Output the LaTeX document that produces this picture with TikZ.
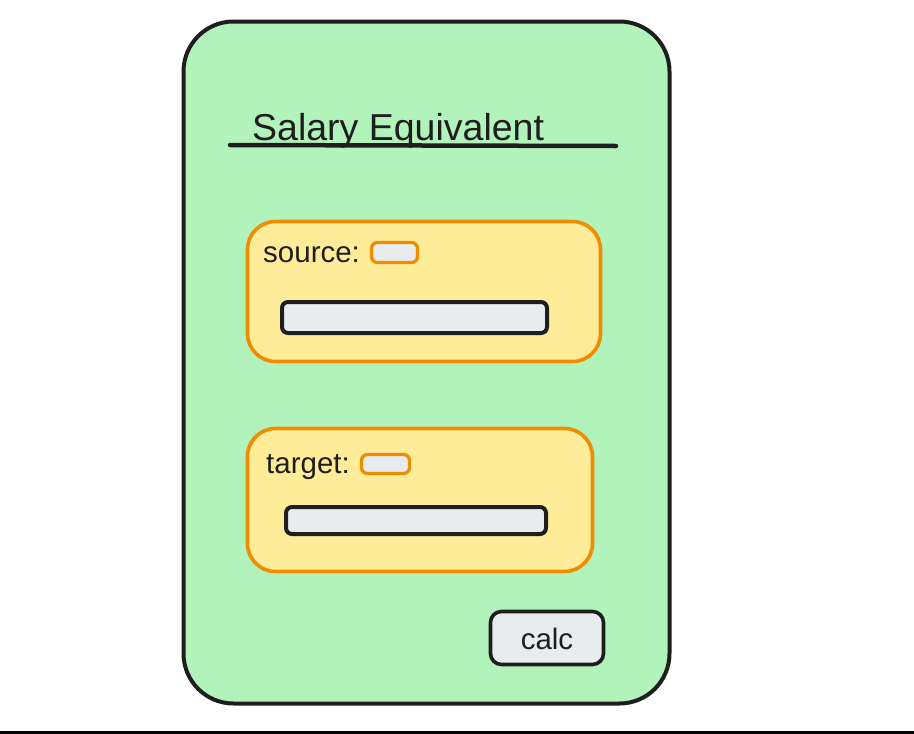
\documentclass[tikz,border=0pt]{standalone}
\usepackage{fontspec}
\setmainfont{Liberation Sans}
\definecolor{ink}{HTML}{1E1E1E}
\definecolor{cardgreen}{HTML}{B2F2BB}
\definecolor{orng}{HTML}{F08C00}
\definecolor{ylw}{HTML}{FFEC99}
\definecolor{gry}{HTML}{E9ECEF}
\begin{document}
\begin{tikzpicture}[x=1pt,y=-1pt,
  card/.style={draw=ink, fill=cardgreen, line width=4pt, rounded corners=50pt, inner sep=0pt, minimum width=486pt, minimum height=682pt},
  group/.style={draw=orng, fill=ylw, line width=3.6pt, rounded corners=28pt, inner sep=0pt},
  field/.style={draw=ink, fill=gry, line width=4pt, rounded corners=6pt, inner sep=0pt},
  tag/.style={draw=orng, fill=gry, line width=3.3pt, rounded corners=6pt, inner sep=0pt},
  btn/.style={draw=ink, fill=gry, line width=3.6pt, rounded corners=11pt, inner sep=0pt},
  lbl/.style={text=ink, font=\fontsize{29.5}{34}\selectfont, anchor=base west, inner sep=0pt}]
\useasboundingbox (0,0) rectangle (914,734);
% card
\node[card] (card) at (426.5,362.5) {};
% title
\node[text=ink, font=\fontsize{37.5}{44}\selectfont, anchor=base west, inner sep=0pt] (title) at (252,140) {Salary Equivalent};
\coordinate (ulA) at (230,145);
\coordinate (ulB) at (616,146);
\draw[ink, line width=4.5pt, line cap=round] (ulA) -- (ulB);
% source group
\node[group, minimum width=353pt, minimum height=140pt] (srcgrp) at (424,291.5) {};
\node[lbl] (srclbl) at (263,262) {source:};
\node[tag, minimum width=46pt, minimum height=20pt] (srctag) at (394.5,252.5) {};
\node[field, minimum width=265pt, minimum height=31pt] (srcfield) at (414.5,317.5) {};
% target group
\node[group, minimum width=345pt, minimum height=143pt] (tgtgrp) at (420,500) {};
\node[lbl] (tgtlbl) at (266,473) {target:};
\node[tag, minimum width=48pt, minimum height=19pt] (tgttag) at (385.5,464) {};
\node[field, minimum width=260pt, minimum height=27pt] (tgtfield) at (416,520.5) {};
% button
\node[btn, minimum width=113pt, minimum height=53pt] (calcbtn) at (547,638) {};
\node[text=ink, font=\fontsize{29.5}{34}\selectfont, anchor=base, inner sep=0pt] (calctxt) at (547,649) {calc};
% bottom rule
\coordinate (bl) at (0,732.5);
\coordinate (br) at (914,732.5);
\draw[black, line width=3pt] (bl) -- (br);
\end{tikzpicture}
\end{document}
